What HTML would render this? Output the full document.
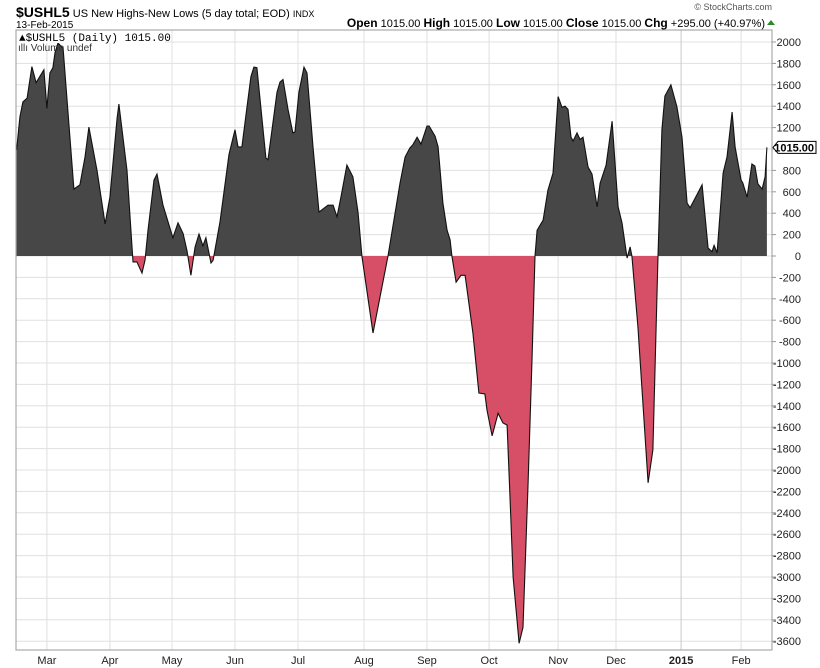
<!DOCTYPE html>
<html><head><meta charset="utf-8">
<style>
body{margin:0;background:#fff;font-family:"Liberation Sans",sans-serif;}
svg{display:block}
</style></head>
<body>
<svg id="chart" width="820" height="668" xmlns="http://www.w3.org/2000/svg" font-family="Liberation Sans, sans-serif">
<text x="16" y="17" font-size="11"><tspan font-weight="bold" font-size="14">$USHL5</tspan> US New Highs-New Lows (5 day total; EOD) <tspan font-size="9">INDX</tspan></text>
<text x="16" y="28" font-size="10">13-Feb-2015</text>
<text x="772" y="10" font-size="9" fill="#555" text-anchor="end">© StockCharts.com</text>
<text x="765" y="27" font-size="11" text-anchor="end"><tspan font-weight="bold" font-size="12">Open</tspan> 1015.00 <tspan font-weight="bold" font-size="12">High</tspan> 1015.00 <tspan font-weight="bold" font-size="12">Low</tspan> 1015.00 <tspan font-weight="bold" font-size="12">Close</tspan> 1015.00 <tspan font-weight="bold" font-size="12">Chg</tspan> +295.00 (+40.97%)</text>
<polygon points="767,25 775,25 771,20" fill="#2a8a2a"/>
<g id="grid"></g>
<g id="marks"></g>
<rect x="16" y="30" width="756" height="620" fill="none" stroke="#999" stroke-width="1"/>
<rect x="17" y="31" width="148" height="12" fill="#fff"/>
<text x="19" y="41" font-size="11" font-family="Liberation Mono, monospace">▲$USHL5 (Daily) 1015.00</text>
<text x="18" y="51" font-size="10" fill="#333">ıllı Volume undef</text>
<g id="yaxis"></g>
<g id="xaxis"></g>
</svg>
<script>
const days=[0.2,1.3,2.3,3.7,5.3,6.7,9.3,10.3,11.3,12.3,13,14,15.7,19.3,21.3,23,24.3,27,29.7,31.3,33.7,34.3,37,39,40.3,42,43,44,46,47,49,52.3,54,55.7,57,58.3,59.7,61,62.3,63.3,65,65.7,68,71,73,74,75.3,76.3,78.3,79.3,80.3,83.3,84,87,88,89,90.7,92.3,93,94.3,96,97,99,101,104,105.7,107,108.3,110.3,112.3,114,115.3,119,124,128,129.7,131.3,132.3,133.7,135,137,137.7,139.7,140.7,142.3,143.7,144.7,145.3,146.7,148.3,149.7,152.3,154.3,156.3,157,158.7,160.7,162.3,163.7,164.7,165.7,167.7,169,170.7,172,173,173.7,175.7,177.3,179,180.7,182,183,184,185,185.7,187,188,189,190.7,192,193.7,194.7,196.7,198.7,200.7,202,203.7,204.7,205.3,207.3,210.7,212.3,214,215.3,216.3,218.3,220.3,222,223.7,224.7,227.3,228.7,230.7,232,232.7,233.7,235.7,237,238.7,239.7,241.7,242.3,243.7,245.3,246.3,247.3,248.7,249.7,250.3];
const values=[990,1300,1440,1475,1770,1620,1740,1380,1710,1760,1900,1990,1940,625,665,925,1205,800,300,550,1290,1420,800,-55,-55,-160,-40,240,710,765,475,170,310,210,50,-180,85,205,95,170,-65,-40,320,950,1180,1020,1020,1240,1675,1765,1760,915,900,1530,1625,1650,1365,1150,1160,1530,1765,1710,1020,410,475,475,365,550,850,740,410,0,-720,0,680,925,1010,1040,1110,1045,1215,1215,1120,1020,495,240,150,0,-245,-180,-180,-720,-1280,-1290,-1440,-1680,-1470,-1560,-1580,-2280,-3000,-3620,-3470,-2120,-970,0,240,335,615,775,1490,1390,1400,1370,1110,1075,1150,1090,1110,830,765,460,680,850,1260,460,310,-20,85,0,-660,-2120,-1810,0,1180,1495,1600,1395,1110,495,450,590,665,75,40,100,30,775,925,1345,1020,710,680,550,860,840,675,625,740,1015];
const monthLabels=["Mar","Apr","May","Jun","Jul","Aug","Sep","Oct","Nov","Dec","2015","Feb"];
const monthDays=[10.3,31.3,52,73,94,116,137,157.7,180.7,200,221.7,241.7];
const yTicks=[2000,1800,1600,1400,1200,1000,800,600,400,200,0,-200,-400,-600,-800,-1000,-1200,-1400,-1600,-1800,-2000,-2200,-2400,-2600,-2800,-3000,-3200,-3400,-3600];
const lastValue=1015;

const NS="http://www.w3.org/2000/svg";
const xS=d=>16+3*d;
const yS=v=>256-v*0.107;
function mk(tag,attrs,parent){const e=document.createElementNS(NS,tag);for(const k in attrs)e.setAttribute(k,attrs[k]);parent.appendChild(e);return e;}
const grid=document.getElementById('grid'),marks=document.getElementById('marks'),yax=document.getElementById('yaxis'),xax=document.getElementById('xaxis');
yTicks.forEach(v=>{
  const l=mk('line',{x1:16,x2:772,y1:yS(v),y2:yS(v),stroke:'#e0e0e0','stroke-width':1},grid);
  
  
  const t=mk('line',{x1:772,x2:776,y1:yS(v),y2:yS(v),stroke:'#999'},yax);
  
  
  const tx=mk('text',{x:801,y:yS(v)+4,'font-size':11,'text-anchor':'end',fill:'#222'},yax);
  tx.textContent=v;
  
  
});
monthDays.forEach((d,i)=>{
  const l=mk('line',{x1:xS(d),x2:xS(d),y1:30,y2:650,stroke:monthLabels[i]==='2015'?'#c8c8c8':'#e0e0e0'},grid);
  
  
  const t=mk('text',{x:xS(d),y:664,'font-size':11,'text-anchor':'middle',fill:'#222','font-weight':monthLabels[i]==='2015'?'bold':'normal'},xax);
  t.textContent=monthLabels[i];
  
  
});
const defs=mk('defs',{},marks);
const c1=mk('clipPath',{id:'above'},defs);mk('rect',{x:0,y:0,width:820,height:yS(0)},c1);
const c2=mk('clipPath',{id:'below'},defs);mk('rect',{x:0,y:yS(0),width:820,height:668},c2);
let pts=days.map((d,i)=>xS(d).toFixed(1)+','+yS(values[i]).toFixed(1));
const areaPts=xS(days[0])+','+yS(0)+' '+pts.join(' ')+' '+xS(days[days.length-1])+','+yS(0);
const pa=mk('polygon',{points:areaPts,fill:'#474747','clip-path':'url(#above)'},marks);


const pb=mk('polygon',{points:areaPts,fill:'#d64f66','clip-path':'url(#below)'},marks);


const ln=mk('polyline',{points:pts.join(' '),fill:'none',stroke:'#111','stroke-width':1.1},marks);


const ty=yS(lastValue);
const tag=mk('polygon',{points:`773,${ty} 778,${ty-6} 816,${ty-6} 816,${ty+6} 778,${ty+6}`,fill:'#fff',stroke:'#000'},yax);


const tt=mk('text',{x:814,y:ty+4,'font-size':11,'font-weight':'bold','text-anchor':'end'},yax);
tt.textContent=lastValue.toFixed(2);


</script>
</body></html>
